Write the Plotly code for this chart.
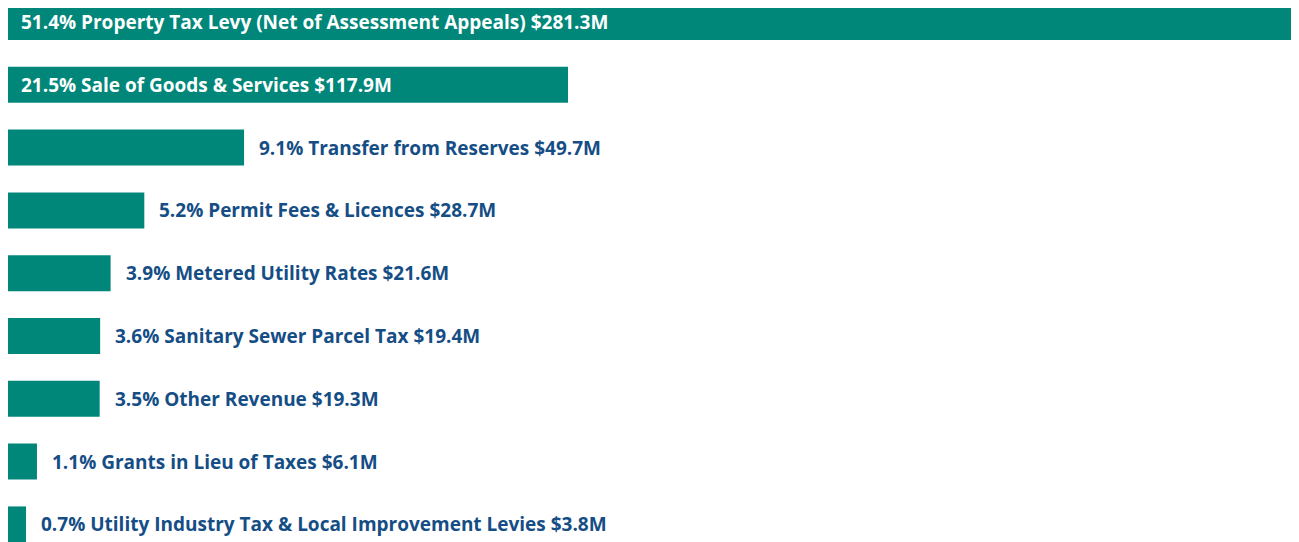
import plotly.graph_objects as go

categories = [
    "Property Tax Levy (Net of Assessment Appeals)",
    "Sale of Goods & Services",
    "Transfer from Reserves",
    "Permit Fees & Licences",
    "Metered Utility Rates",
    "Sanitary Sewer Parcel Tax",
    "Other Revenue",
    "Grants in Lieu of Taxes",
    "Utility Industry Tax & Local Improvement Levies",
]
percents = [51.4, 21.5, 9.1, 5.2, 3.9, 3.6, 3.5, 1.1, 0.7]
values_m = [281.3, 117.9, 49.7, 28.7, 21.6, 19.4, 19.3, 6.1, 3.8]
inside_label = [True, True, False, False, False, False, False, False, False]

BAR = "#00877a"
TXT = "#154d85"
FONT = "Open Sans"

labels = [f"{p}% {c} ${v}M" for p, c, v in zip(percents, categories, values_m)]

fig = go.Figure(
    go.Bar(
        x=values_m,
        y=categories,
        orientation="h",
        marker=dict(color=BAR, line=dict(width=0)),
        width=0.573,
        hoverinfo="skip",
    )
)

annotations = []
for c, v, lab, ins in zip(categories, values_m, labels, inside_label):
    annotations.append(
        dict(
            x=0 if ins else v,
            y=c,
            xref="x",
            yref="y",
            text=lab,
            showarrow=False,
            xanchor="left",
            yanchor="middle",
            xshift=11 if ins else 13,
            font=dict(family=FONT, size=19, weight=700, color="white" if ins else TXT),
        )
    )

fig.update_layout(
    width=1291,
    height=534,
    margin=dict(l=0, r=0, t=0, b=0),
    paper_bgcolor="white",
    plot_bgcolor="white",
    showlegend=False,
    annotations=annotations,
    xaxis=dict(range=[0, 271.8], visible=False, fixedrange=True),
    yaxis=dict(
        type="category",
        categoryorder="array",
        categoryarray=categories,
        range=[8.28, -0.223],
        visible=False,
        fixedrange=True,
    ),
)

fig.write_html("out.html", config={"displayModeBar": False})
